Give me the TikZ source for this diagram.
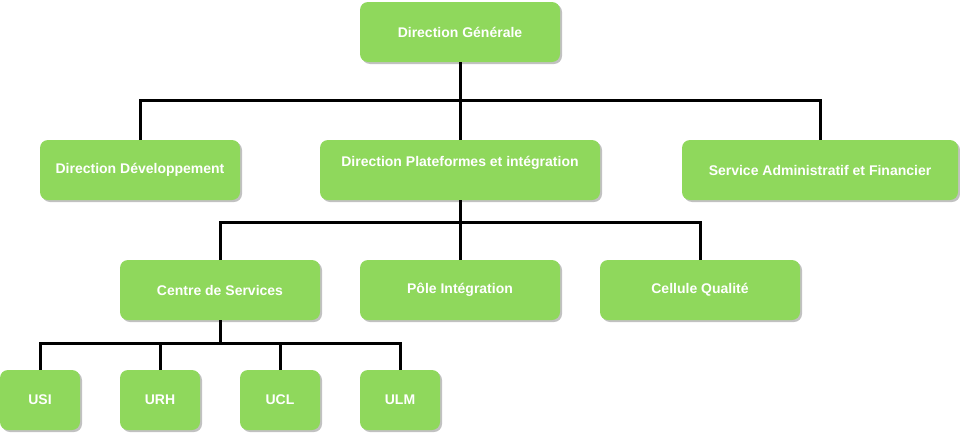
\documentclass[tikz,border=0pt]{standalone}
\usepackage{fontspec}
\setmainfont{Liberation Sans}
\definecolor{boxgreen}{RGB}{143, 216, 92}
\usetikzlibrary{shadows}

\begin{document}
\begin{tikzpicture}[x=1pt, y=-1pt,
    unit/.style={draw=none, fill=boxgreen, rounded corners=8pt,
      minimum height=60pt, text=white, inner sep=0pt,
      font=\fontsize{14}{16}\selectfont\bfseries, align=center,
      drop shadow={shadow xshift=2pt, shadow yshift=-2pt, fill=black!30, opacity=.8}},
    link/.style={line width=3pt}]
  \useasboundingbox (0,0) rectangle (960,434);

  % Level 1
  \node[unit, minimum width=200pt] (dg) at (460, 32) {Direction Générale};

  % Level 2
  \node[unit, minimum width=200pt] (dd) at (140, 170) {Direction Développement};
  \node[unit, minimum width=280pt] (dp) at (460, 170) {Direction Plateformes et intégration\\[2pt]\mbox{}};
  \node[unit, minimum width=276pt] (saf) at (820, 170) {Service Administratif et Financier};

  % Level 3
  \node[unit, minimum width=200pt] (cs) at (220, 290) {Centre de Services};
  \node[unit, minimum width=200pt] (pi) at (460, 290) {Pôle Intégration};
  \node[unit, minimum width=200pt] (cq) at (700, 290) {Cellule Qualité};

  % Level 4
  \node[unit, minimum width=80pt] (usi) at (40, 400) {USI};
  \node[unit, minimum width=80pt] (urh) at (160, 400) {URH};
  \node[unit, minimum width=80pt] (ucl) at (280, 400) {UCL};
  \node[unit, minimum width=80pt] (ulm) at (400, 400) {ULM};

  % Connectors
  \draw[link] (dg.south) -- ++(0, 38) coordinate (bus1);
  \draw[link] (bus1) -| (dd.north);
  \draw[link] (bus1) -| (saf.north);
  \draw[link] (bus1) -- (dp.north);

  \draw[link] (dp.south) -- ++(0, 22) coordinate (bus2);
  \draw[link] (bus2) -| (cs.north);
  \draw[link] (bus2) -| (cq.north);
  \draw[link] (bus2) -- (pi.north);

  \draw[link] (cs.south) -- ++(0, 23) coordinate (bus3);
  \draw[link] (bus3) -| (usi.north);
  \draw[link] (bus3) -| (ulm.north);
  \draw[link] (urh.north) |- (bus3);
  \draw[link] (ucl.north) |- (bus3);
\end{tikzpicture}
\end{document}
